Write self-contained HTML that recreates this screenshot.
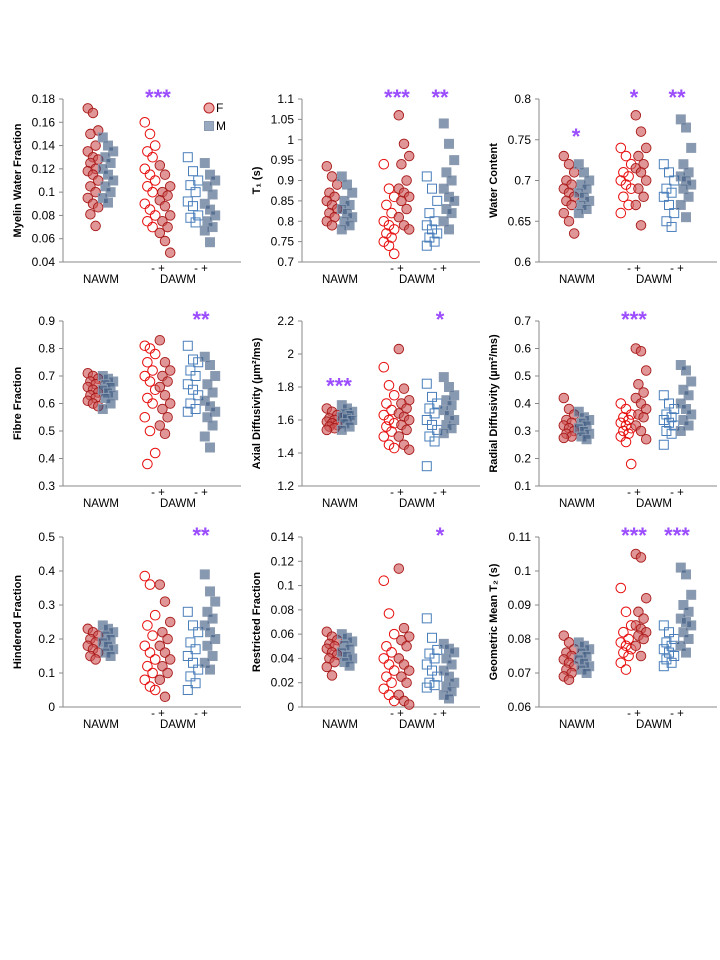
<!DOCTYPE html>
<html><head><meta charset="utf-8">
<style>
body{margin:0;background:#fff;}
svg{display:block;font-family:"Liberation Sans",sans-serif;}
</style></head>
<body>
<svg id="c" width="720" height="960" viewBox="0 0 720 960"></svg>
<script>
// ---- data arrays ----
const groupNames = ["NAWM-F","NAWM-M","DAWM-F-","DAWM-F+","DAWM-M-","DAWM-M+"];
const titles = ["Myelin Water Fraction","T\u2081 (s)","Water Content","Fibre Fraction","Axial Diffusivity  (\u00b5m\u00b2/ms)","Radial Diffusivity  (\u00b5m\u00b2/ms)","Hindered Fraction","Restricted Fraction","Geometric Mean T\u2082 (s)"];
const ticks = [
 ["0.04","0.06","0.08","0.1","0.12","0.14","0.16","0.18"],
 ["0.7","0.75","0.8","0.85","0.9","0.95","1","1.05","1.1"],
 ["0.6","0.65","0.7","0.75","0.8"],
 ["0.3","0.4","0.5","0.6","0.7","0.8","0.9"],
 ["1.2","1.4","1.6","1.8","2","2.2"],
 ["0.1","0.2","0.3","0.4","0.5","0.6","0.7"],
 ["0","0.1","0.2","0.3","0.4","0.5"],
 ["0","0.02","0.04","0.06","0.08","0.1","0.12","0.14"],
 ["0.06","0.07","0.08","0.09","0.1","0.11"]
];
const p1 = [[0.172,0.168,0.153,0.15,0.14,0.135,0.13,0.128,0.125,0.12,0.118,0.115,0.11,0.105,0.1,0.095,0.09,0.087,0.081,0.071],
 [0.147,0.14,0.135,0.13,0.125,0.12,0.115,0.11,0.105,0.1,0.095,0.091],
 [0.16,0.15,0.14,0.135,0.13,0.12,0.115,0.11,0.105,0.1,0.09,0.085,0.08,0.075,0.07],
 [0.123,0.115,0.105,0.1,0.097,0.093,0.088,0.08,0.075,0.07,0.065,0.058,0.048],
 [0.13,0.118,0.11,0.106,0.1,0.092,0.088,0.08,0.078,0.074],
 [0.125,0.115,0.11,0.105,0.098,0.09,0.085,0.08,0.075,0.07,0.067,0.057]];
const p2 = [[0.935,0.91,0.89,0.87,0.86,0.85,0.84,0.83,0.82,0.81,0.8,0.79],
 [0.91,0.89,0.87,0.85,0.84,0.83,0.82,0.81,0.8,0.79,0.78],
 [0.94,0.88,0.86,0.84,0.82,0.8,0.79,0.78,0.77,0.76,0.75,0.74,0.72],
 [1.06,0.99,0.96,0.94,0.9,0.88,0.87,0.86,0.85,0.83,0.81,0.79,0.78],
 [0.91,0.88,0.85,0.82,0.8,0.79,0.78,0.77,0.76,0.75,0.74],
 [1.04,0.99,0.95,0.92,0.9,0.88,0.86,0.85,0.83,0.82,0.8,0.78]];
const p3 = [[0.73,0.72,0.71,0.7,0.695,0.69,0.685,0.68,0.675,0.67,0.66,0.65,0.635],
 [0.72,0.71,0.7,0.695,0.69,0.685,0.68,0.675,0.67,0.665,0.66],
 [0.74,0.73,0.72,0.71,0.705,0.7,0.695,0.69,0.68,0.67,0.66],
 [0.78,0.76,0.74,0.73,0.72,0.715,0.71,0.7,0.69,0.68,0.67,0.645],
 [0.72,0.71,0.7,0.69,0.685,0.68,0.67,0.66,0.65,0.643],
 [0.775,0.765,0.74,0.72,0.71,0.705,0.7,0.695,0.69,0.68,0.67,0.655]];
const p4 = [[0.71,0.7,0.69,0.68,0.67,0.66,0.65,0.64,0.63,0.62,0.61,0.6,0.59],
 [0.7,0.69,0.68,0.67,0.66,0.65,0.64,0.63,0.62,0.6,0.58],
 [0.81,0.8,0.78,0.75,0.72,0.7,0.68,0.65,0.62,0.6,0.55,0.5,0.42,0.38],
 [0.83,0.75,0.72,0.7,0.68,0.66,0.63,0.6,0.58,0.55,0.52,0.49],
 [0.81,0.76,0.75,0.72,0.7,0.67,0.65,0.63,0.6,0.58,0.57],
 [0.77,0.74,0.7,0.67,0.64,0.61,0.59,0.57,0.55,0.52,0.48,0.44]];
const p5 = [[1.67,1.65,1.63,1.61,1.6,1.59,1.58,1.57,1.56,1.55,1.54],
 [1.69,1.67,1.65,1.64,1.63,1.62,1.61,1.6,1.58,1.56,1.54],
 [1.92,1.81,1.75,1.7,1.66,1.63,1.6,1.58,1.56,1.53,1.5,1.45,1.43],
 [2.03,1.79,1.72,1.7,1.67,1.64,1.62,1.6,1.57,1.54,1.5,1.45,1.42],
 [1.82,1.74,1.7,1.67,1.64,1.6,1.57,1.54,1.5,1.47,1.32],
 [1.86,1.8,1.75,1.72,1.69,1.66,1.63,1.6,1.57,1.55,1.52]];
const p6 = [[0.42,0.38,0.36,0.34,0.33,0.32,0.31,0.3,0.29,0.28,0.275],
 [0.37,0.35,0.34,0.33,0.32,0.31,0.3,0.29,0.28,0.27],
 [0.4,0.38,0.36,0.35,0.34,0.33,0.32,0.31,0.3,0.29,0.28,0.26,0.18],
 [0.6,0.59,0.52,0.47,0.44,0.42,0.4,0.38,0.36,0.35,0.32,0.3,0.27],
 [0.43,0.4,0.38,0.36,0.35,0.34,0.33,0.32,0.3,0.29,0.25],
 [0.54,0.52,0.48,0.45,0.43,0.4,0.38,0.36,0.34,0.32,0.3]];
const p7 = [[0.23,0.22,0.21,0.2,0.19,0.18,0.17,0.16,0.15,0.14],
 [0.24,0.23,0.22,0.21,0.2,0.19,0.18,0.17,0.16,0.15],
 [0.385,0.36,0.27,0.24,0.21,0.18,0.16,0.14,0.12,0.1,0.08,0.06,0.05],
 [0.36,0.31,0.25,0.22,0.2,0.18,0.16,0.14,0.12,0.1,0.08,0.03],
 [0.28,0.24,0.22,0.19,0.17,0.15,0.13,0.11,0.09,0.07,0.05],
 [0.39,0.34,0.31,0.28,0.26,0.24,0.22,0.2,0.18,0.15,0.13,0.11]];
const p8 = [[0.062,0.058,0.055,0.052,0.05,0.048,0.045,0.043,0.04,0.037,0.033,0.026],
 [0.06,0.057,0.054,0.051,0.048,0.045,0.042,0.04,0.037,0.034],
 [0.104,0.077,0.06,0.05,0.045,0.04,0.035,0.03,0.025,0.02,0.015,0.01,0.005],
 [0.114,0.065,0.058,0.055,0.05,0.04,0.035,0.03,0.025,0.02,0.01,0.005,0.002],
 [0.073,0.057,0.047,0.044,0.04,0.035,0.03,0.025,0.02,0.018,0.016],
 [0.052,0.048,0.045,0.04,0.035,0.03,0.025,0.02,0.017,0.013,0.01,0.007]];
const p9 = [[0.081,0.079,0.077,0.076,0.075,0.074,0.073,0.072,0.071,0.07,0.069,0.068],
 [0.079,0.078,0.077,0.076,0.075,0.074,0.073,0.072,0.071,0.07],
 [0.095,0.088,0.084,0.082,0.08,0.079,0.078,0.077,0.076,0.075,0.073,0.071],
 [0.105,0.104,0.092,0.088,0.086,0.084,0.083,0.082,0.081,0.08,0.078,0.075],
 [0.084,0.082,0.08,0.079,0.078,0.077,0.076,0.075,0.074,0.073,0.072],
 [0.101,0.099,0.093,0.09,0.088,0.086,0.085,0.084,0.082,0.08,0.078,0.076]];
const panelData = [p1,p2,p3,p4,p5,p6,p7,p8,p9];
const stars = [[[1,"***"]],[[1,"***"],[2,"**"]],[[0,"*"],[1,"*"],[2,"**"]],[[2,"**"]],[[0,"***"],[2,"*"]],[[1,"***"]],[[2,"**"]],[[2,"*"]],[[1,"***"],[2,"***"]]];
const starY = [[0,100],[0,100],[0.745,0.8],[0,0.9],[1.76,2.0],[0,0.7],[0,0.5],[0,0.095],[0,0.108]];

// ---- layout ----
const NS="http://www.w3.org/2000/svg";
const svg=document.getElementById('c');
const colX=[63,302,539];
const rowY=[[99,262],[321,486],[537,707]];
const gOff=[30,45,87,102,130,147];
const starOff=[37,95,138];
function mk(tag,attrs,parent){const e=document.createElementNS(NS,tag);for(const k in attrs)e.setAttribute(k,attrs[k]);(parent||svg).appendChild(e);return e;}

panelData.forEach((pd,pi)=>{
  const ax=colX[pi%3], top=rowY[Math.floor(pi/3)][0], bot=rowY[Math.floor(pi/3)][1];
  const tk=ticks[pi].map(Number);
  const lo=tk[0], hi=tk[tk.length-1];
  const y=v=>bot-(v-lo)/(hi-lo)*(bot-top);
  const g=mk('g',{});
  
  
  const yl=mk('line',{x1:ax,y1:top,x2:ax,y2:bot,stroke:'#888','stroke-width':1},g);
  
  
  const xl=mk('line',{x1:ax,y1:bot,x2:ax+178,y2:bot,stroke:'#888','stroke-width':1},g);
  
  
  ticks[pi].forEach(t=>{
    const yy=y(Number(t));
    mk('line',{x1:ax-4,y1:yy,x2:ax,y2:yy,stroke:'#888'},g);
    const tx=mk('text',{x:ax-8,y:yy+4,'text-anchor':'end','font-size':12,fill:'#000'},g);
    tx.textContent=t;
    
    
  });
  const tl=mk('text',{x:0,y:0,'text-anchor':'middle','font-size':11,'font-weight':'bold',transform:`translate(${ax-42},${(top+bot)/2}) rotate(-90)`},g);
  tl.textContent=titles[pi];
  
  
  [["NAWM",ax+38,bot+21],["DAWM",ax+115,bot+21],["-  +",ax+95,bot+10],["-  +",ax+138,bot+10]].forEach(l=>{
    const t=mk('text',{x:l[1],y:l[2],'text-anchor':'middle','font-size':11.5},g);
    t.textContent=l[0];
    
    
  });
  pd.forEach((vals,gi)=>{
    vals.forEach((v,i)=>{
      const cx=ax+gOff[gi]+(((i*7)%5)-2)*2.6;
      const cy=y(v);
      let m;
      if(gi===0||gi===3) m=mk('circle',{cx:cx,cy:cy,r:4.8,fill:'rgba(205,85,85,0.62)',stroke:'#a81818','stroke-width':0.9},g);
      else if(gi===2) m=mk('circle',{cx:cx,cy:cy,r:4.8,fill:'none',stroke:'#e81010','stroke-width':1},g);
      else if(gi===1||gi===5) m=mk('rect',{x:cx-4.5,y:cy-4.5,width:9,height:9,fill:'rgba(55,85,125,0.6)',stroke:'#8a9ab0','stroke-width':1},g);
      else m=mk('rect',{x:cx-4.5,y:cy-4.5,width:9,height:9,fill:'none',stroke:'#4a7ebb','stroke-width':1},g);
      
      
    });
  });
  stars[pi].forEach(s=>{
    let sy = s[0]===0 ? y(starY[pi][0]) : top+6;
    const t=mk('text',{x:ax+starOff[s[0]],y:sy,'text-anchor':'middle','font-size':22,'font-weight':'bold',fill:'#9b4dff'},g);
    t.textContent=s[1];
    
    
  });
});
const lg=mk('g',{});


mk('circle',{cx:209,cy:108,r:5,fill:'rgba(225,110,110,0.6)',stroke:'#b82020'},lg);
const lf=mk('text',{x:216,y:112,'font-size':12},lg); lf.textContent='F';
mk('rect',{x:204.5,y:121.5,width:9,height:9,fill:'rgba(70,100,140,0.55)',stroke:'#8a9ab0'},lg);
const lm=mk('text',{x:216,y:130,'font-size':12},lg); lm.textContent='M';
</script>
</body></html>
